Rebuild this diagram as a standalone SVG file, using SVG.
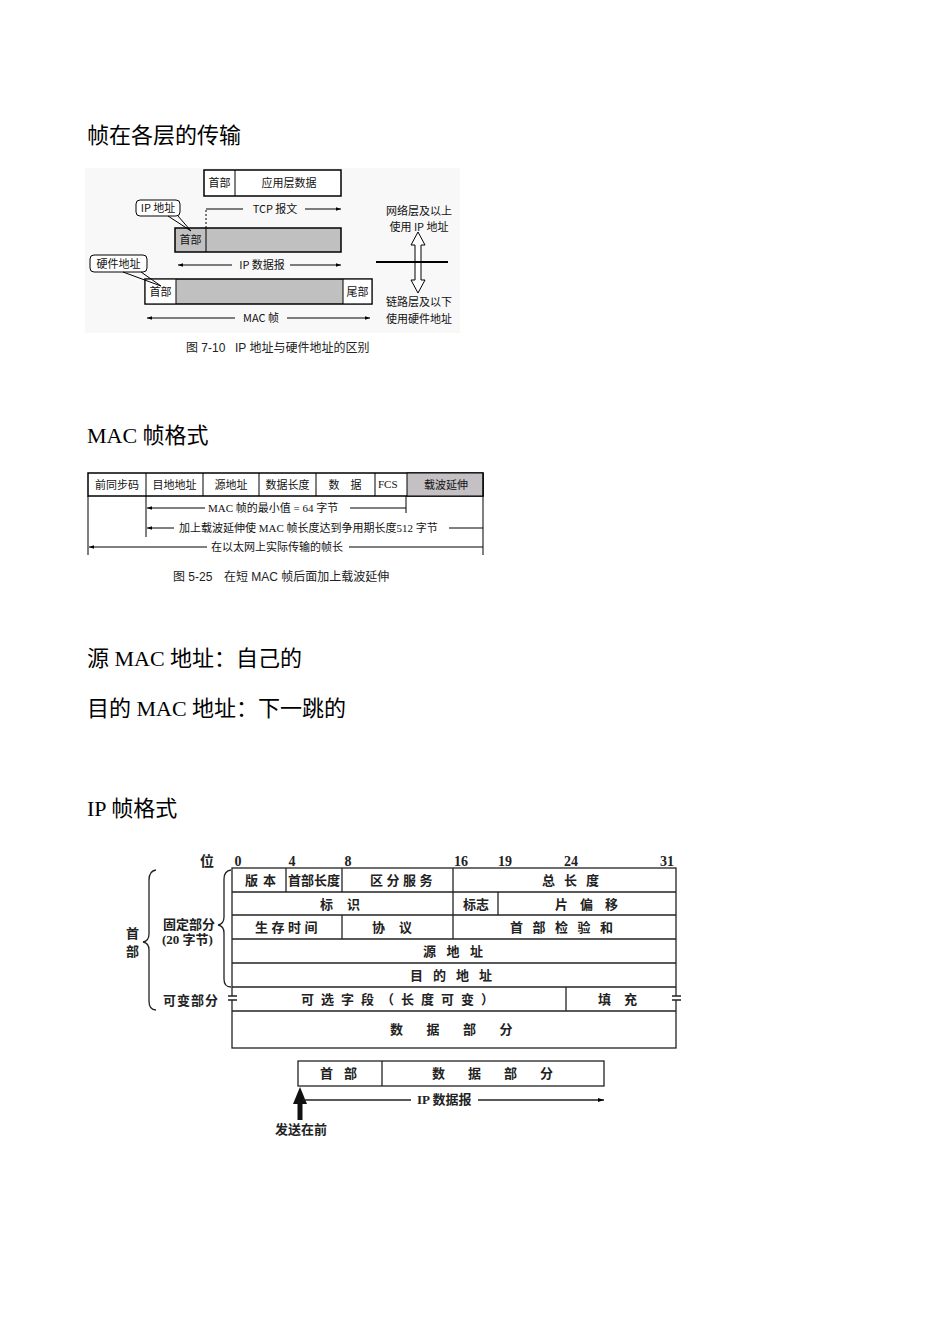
<svg xmlns="http://www.w3.org/2000/svg" width="950" height="1344" viewBox="0 0 950 1344">
<style>
.title{font-family:"Liberation Serif","Noto Sans CJK SC",serif;font-size:22px;fill:#000}
.f{font-family:"Liberation Serif","Noto Sans CJK SC",sans-serif;font-size:11px;fill:#111}
.fs{font-family:"Noto Sans CJK SC",sans-serif;font-size:11px;fill:#111}
.cap{font-family:"Liberation Sans","Noto Sans CJK SC",sans-serif;font-size:12px;fill:#222}
.ip{font-family:"Liberation Serif","Noto Sans CJK SC",serif;font-size:13px;font-weight:bold;fill:#222}
.bit{font-family:"Liberation Serif","Noto Sans CJK SC",serif;font-size:14px;font-weight:bold;fill:#222;text-anchor:middle}
.box{fill:#fff;stroke:#000;stroke-width:1.5}
.gray{fill:#c0c0c0;stroke:#000;stroke-width:1.5}
.ln{stroke:#000;stroke-width:1;fill:none}
.t{stroke:#222;stroke-width:1.3;fill:none}
.tb{fill:#fff;stroke:#222;stroke-width:1.3}
.c{text-anchor:middle}
</style>
<defs>
<marker id="ah" viewBox="0 0 6 6" refX="6" refY="3" markerWidth="5" markerHeight="5" orient="auto-start-reverse"><path d="M0,1 L6,3 L0,5 z" fill="#000"/></marker>
</defs>
<rect width="950" height="1344" fill="#fff"/>

<!-- Titles -->
<g id="titles">
<text class="title" x="87" y="143">帧在各层的传输</text>
<text class="title" x="87" y="443">MAC 帧格式</text>
<text class="title" x="87" y="666">源 MAC 地址：自己的</text>
<text class="title" x="87" y="716">目的 MAC 地址：下一跳的</text>
<text class="title" x="87" y="816">IP 帧格式</text>
</g>

<!-- Figure 1 -->
<rect x="85" y="168" width="375" height="165" fill="#f8f8f8"/>
<g id="fig1-app">
<rect class="box" x="204" y="170" width="137" height="26"/>
<line class="ln" x1="235" y1="170" x2="235" y2="196" stroke-width="1.5"/>
<text class="fs c" x="219.5" y="187">首部</text>
<text class="fs c" x="289" y="187">应用层数据</text>
</g>
<g id="fig1-ip">
<rect class="gray" x="175" y="228" width="166" height="24"/>
<line class="ln" x1="206" y1="228" x2="206" y2="252" stroke-width="1.5"/>
<text class="fs c" x="190.5" y="244">首部</text>
</g>
<g id="fig1-mac">
<rect class="gray" x="145" y="279" width="227" height="25"/>
<rect x="145.75" y="279.75" width="30.5" height="23.5" fill="#fff"/>
<rect x="343" y="279.75" width="28.25" height="23.5" fill="#fff"/>
<line class="ln" x1="176" y1="279" x2="176" y2="304" stroke-width="1.5"/>
<line class="ln" x1="343" y1="279" x2="343" y2="304" stroke-width="1.5"/>
<text class="fs c" x="160.5" y="296">首部</text>
<text class="fs c" x="357.5" y="296">尾部</text>
</g>
<g id="fig1-ipaddr">
<rect x="136" y="200" width="44" height="16" rx="4" fill="#fff" stroke="#000" stroke-width="1"/>
<text class="fs c" x="158" y="212">IP 地址</text>
</g>
<g id="fig1-hwaddr">
<rect x="90" y="255" width="57" height="17" rx="4" fill="#fff" stroke="#000" stroke-width="1"/>
<text class="fs c" x="118.5" y="267.5">硬件地址</text>
</g>
<g id="fig1-layers">
<text class="fs c" x="419" y="215">网络层及以上</text>
<text class="fs c" x="419" y="231">使用 IP 地址</text>
<text class="fs c" x="419" y="306">链路层及以下</text>
<text class="fs c" x="419" y="323">使用硬件地址</text>
<path d="M418,232 L425,245 L421,245 L421,280 L425,280 L418,293 L411,280 L415,280 L415,245 L411,245 Z" fill="#fff" stroke="#000" stroke-width="1"/>
<line x1="376" y1="262" x2="448" y2="262" stroke="#000" stroke-width="2"/>
</g>
<g id="fig1-labels">
<text class="fs c" x="275" y="213">TCP 报文</text>
<text class="fs c" x="262" y="269">IP 数据报</text>
<text class="fs c" x="261" y="322">MAC 帧</text>
</g>
<g id="fig1-connectors">
<line class="ln" x1="206" y1="228" x2="206" y2="209" stroke-dasharray="2,2"/>
<line class="ln" x1="206" y1="209" x2="243" y2="209"/>
<line class="ln" x1="305" y1="209" x2="341" y2="209" marker-end="url(#ah)"/>
<line class="ln" x1="232" y1="265" x2="178" y2="265" marker-end="url(#ah)"/>
<line class="ln" x1="290" y1="265" x2="341" y2="265" marker-end="url(#ah)"/>
<line class="ln" x1="235" y1="318" x2="147" y2="318" marker-end="url(#ah)"/>
<line class="ln" x1="287" y1="318" x2="370" y2="318" marker-end="url(#ah)"/>
<path class="ln" d="M168,216 L191,231 L178,216"/>
<path class="ln" d="M123,272 L161,286 L141,272"/>
</g>
<text class="cap" x="186" y="352">图 7-10</text>
<text class="cap" x="235" y="352">IP 地址与硬件地址的区别</text>

<!-- Figure 2 -->
<g id="fig2-fields">
<rect class="box" x="88" y="473" width="395" height="23" stroke-width="1"/>
<rect x="407" y="473" width="76" height="23" fill="#c4c0c4" stroke="#000" stroke-width="1"/>
<line class="ln" x1="483" y1="473" x2="483" y2="496" stroke-width="2.5"/>
<line class="ln" x1="146" y1="473" x2="146" y2="496"/>
<line class="ln" x1="203" y1="473" x2="203" y2="496"/>
<line class="ln" x1="259" y1="473" x2="259" y2="496"/>
<line class="ln" x1="316" y1="473" x2="316" y2="496"/>
<line class="ln" x1="375" y1="473" x2="375" y2="496"/>
<text class="fs c" x="117" y="489">前同步码</text>
<text class="fs c" x="174.5" y="489">目地地址</text>
<text class="fs c" x="231" y="489">源地址</text>
<text class="fs c" x="287.5" y="489">数据长度</text>
<text class="fs c" x="345" y="489">数　据</text>
<text class="f" x="378" y="488">FCS</text>
<text class="fs c" x="446" y="489">载波延伸</text>
</g>
<g id="fig2-dims">
<line class="ln" x1="88" y1="496" x2="88" y2="555"/>
<line class="ln" x1="146" y1="496" x2="146" y2="537"/>
<line class="ln" x1="406" y1="496" x2="406" y2="513"/>
<line class="ln" x1="483" y1="496" x2="483" y2="555"/>
<line class="ln" x1="205" y1="508" x2="147" y2="508" marker-end="url(#ah)"/>
<line class="ln" x1="350" y1="508" x2="406" y2="508"/>
<text class="f" x="208" y="512">MAC 帧的最小值 = 64 字节</text>
<line class="ln" x1="174" y1="528" x2="147" y2="528" marker-end="url(#ah)"/>
<line class="ln" x1="449" y1="528" x2="483" y2="528"/>
<text class="f" x="179" y="532">加上载波延伸使 MAC 帧长度达到争用期长度512 字节</text>
<line class="ln" x1="207" y1="547" x2="89" y2="547" marker-end="url(#ah)"/>
<line class="ln" x1="349" y1="547" x2="483" y2="547"/>
<text class="fs" x="211" y="551">在以太网上实际传输的帧长</text>
</g>
<text class="cap" x="173" y="581">图 5-25</text>
<text class="cap" x="224" y="581">在短 MAC 帧后面加上载波延伸</text>

<!-- Figure 3 -->
<g id="fig3-bits">
<text class="bit" x="207" y="866">位</text>
<text class="bit" x="238" y="866">0</text>
<text class="bit" x="292" y="866">4</text>
<text class="bit" x="348" y="866">8</text>
<text class="bit" x="461" y="866">16</text>
<text class="bit" x="505" y="866">19</text>
<text class="bit" x="571" y="866">24</text>
<text class="bit" x="667" y="866">31</text>
</g>
<g id="fig3-table">
<rect class="tb" x="232" y="868" width="444" height="180"/>
<line class="t" x1="232" y1="892" x2="676" y2="892"/>
<line class="t" x1="232" y1="915" x2="676" y2="915"/>
<line class="t" x1="232" y1="939" x2="676" y2="939"/>
<line class="t" x1="232" y1="963" x2="676" y2="963"/>
<line class="t" x1="232" y1="987" x2="676" y2="987"/>
<line class="t" x1="232" y1="1011" x2="676" y2="1011"/>
<line class="t" x1="286" y1="868" x2="286" y2="892"/>
<line class="t" x1="342" y1="868" x2="342" y2="892"/>
<line class="t" x1="453" y1="868" x2="453" y2="939"/>
<line class="t" x1="498" y1="892" x2="498" y2="915"/>
<line class="t" x1="342" y1="915" x2="342" y2="939"/>
<line class="t" x1="566" y1="987" x2="566" y2="1011"/>
<rect x="228" y="996" width="10" height="4" fill="#fff"/>
<rect x="672" y="996" width="10" height="4" fill="#fff"/>
<path class="t" d="M228,996 H237 M228,1000 H237 M672,996 H681 M672,1000 H681"/>
</g>
<g id="fig3-fields">
<text class="ip" x="245" y="885" letter-spacing="5">版本</text>
<text class="ip" x="288" y="885">首部长度</text>
<text class="ip" x="370" y="885" letter-spacing="3.5">区分服务</text>
<text class="ip" x="542" y="885" letter-spacing="9">总长度</text>
<text class="ip" x="320" y="909" letter-spacing="14">标识</text>
<text class="ip" x="463" y="909">标志</text>
<text class="ip" x="555" y="909" letter-spacing="12">片偏移</text>
<text class="ip" x="255" y="932" letter-spacing="3.5">生存时间</text>
<text class="ip" x="372" y="932" letter-spacing="14">协议</text>
<text class="ip" x="510" y="932" letter-spacing="9.5">首部检验和</text>
<text class="ip" x="423" y="956" letter-spacing="10.5">源地址</text>
<text class="ip" x="410" y="980" letter-spacing="10">目的地址</text>
<text class="ip" x="301" y="1004" letter-spacing="7">可选字段（长度可变）</text>
<text class="ip" x="598" y="1004" letter-spacing="13">填充</text>
<text class="ip" x="390" y="1034" letter-spacing="23.5">数据部分</text>
</g>
<g id="fig3-braces">
<path class="t" d="M156,870 Q149,871 149,880 L149,934 Q149,941 143,942 Q149,943 149,950 L149,1001 Q149,1010 156,1010"/>
<path class="t" d="M231,870 Q224,871 224,879 L224,917 Q224,924 218,925 Q224,926 224,933 L224,979 Q224,987 231,987"/>
<text class="ip" x="126" y="938">首</text>
<text class="ip" x="126" y="956">部</text>
<text class="ip" x="163" y="929">固定部分</text>
<text class="ip" x="162" y="944">(20 字节)</text>
<text class="ip" x="163" y="1005" letter-spacing="1">可变部分</text>
</g>
<g id="fig3-datagram">
<rect class="tb" x="298" y="1061" width="306" height="25"/>
<line class="t" x1="382" y1="1061" x2="382" y2="1086"/>
<text class="ip" x="320" y="1078" letter-spacing="11">首部</text>
<text class="ip" x="432" y="1078" letter-spacing="23">数据部分</text>
</g>
<g id="fig3-connectors">
<path d="M293,1104 L300,1087 L307,1104 Z" fill="#111"/>
<rect x="297.5" y="1100" width="5" height="20" fill="#111"/>
<line class="t" x1="303" y1="1100" x2="411" y2="1100"/>
<line class="t" x1="478" y1="1100" x2="604" y2="1100" marker-end="url(#ah)"/>
<text class="ip" x="417" y="1104">IP 数据报</text>
<text class="ip" x="275" y="1134">发送在前</text>
</g>
</svg>
